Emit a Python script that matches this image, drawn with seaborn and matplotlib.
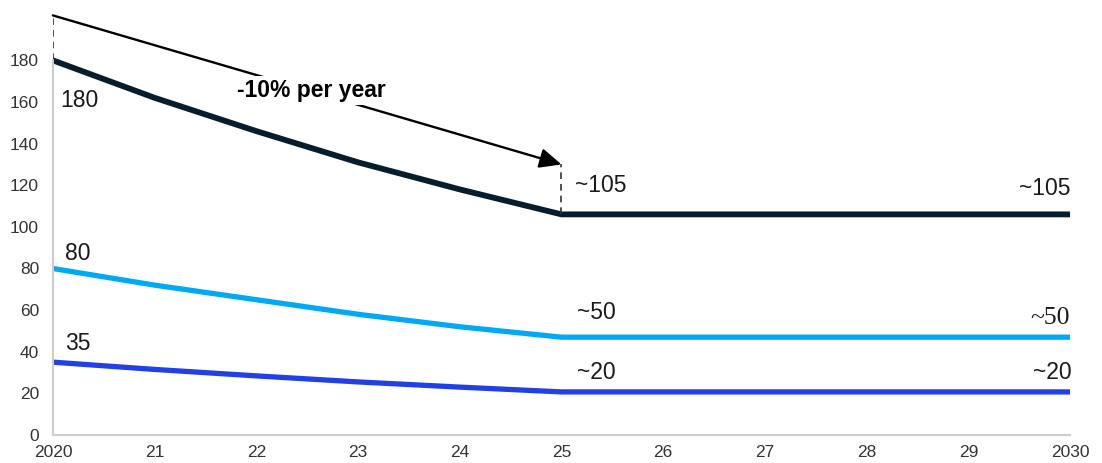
import matplotlib
matplotlib.use("Agg")
import matplotlib.pyplot as plt
import seaborn as sns
import pandas as pd

# Series values by year
years = [2020, 2021, 2022, 2023, 2024, 2025, 2026, 2027, 2028, 2029, 2030]
top_series = [180, 162, 146, 131, 118, 106, 106, 106, 106, 106, 106]
mid_series = [80, 72, 65, 58, 52, 47, 47, 47, 47, 47, 47]
low_series = [35, 31.5, 28.4, 25.5, 23, 20.7, 20.7, 20.7, 20.7, 20.7, 20.7]

tick_years = [2020, 2021, 2022, 2023, 2024, 2025, 2026, 2027, 2028, 2029, 2030]
tick_labels = ["2020", "21", "22", "23", "24", "25", "26", "27", "28", "29", "2030"]
y_ticks = [0, 20, 40, 60, 80, 100, 120, 140, 160, 180]

start_labels = ["180", "80", "35"]
plateau_labels = ["~105", "~50", "~20"]

arrow_start = 201.6
arrow_end = 130
arrow_text = "-10% per year"

colors = {"top": "#071d2d", "mid": "#00a9f4", "low": "#2140e6"}
widths = {"top": 4.2, "mid": 3.8, "low": 3.8}

df = pd.DataFrame({
    "year": years * 3,
    "value": top_series + mid_series + low_series,
    "series": ["top"] * len(years) + ["mid"] * len(years) + ["low"] * len(years),
})

sns.set_theme(style="white")
plt.rcParams["font.family"] = ["Liberation Sans", "DejaVu Sans"]

fig = plt.figure(figsize=(11.02, 4.63), dpi=100)
ax = fig.add_axes([0.048, 0.0605, 0.923, 0.9395])

for name in ["top", "mid", "low"]:
    sns.lineplot(data=df[df["series"] == name], x="year", y="value",
                 color=colors[name], linewidth=widths[name], legend=False,
                 ax=ax, solid_capstyle="round")

ax.set_xlim(2020, 2030)
ax.set_ylim(0, 209)
ax.set_xticks(tick_years)
ax.set_xticklabels(tick_labels)
ax.set_yticks(y_ticks)
ax.set_xlabel("")
ax.set_ylabel("")
ax.tick_params(axis="both", length=0, labelsize=12.5, colors="#333333")
ax.tick_params(axis="x", pad=7)
ax.tick_params(axis="y", pad=10)

for side in ["top", "right"]:
    ax.spines[side].set_visible(False)
for side in ["left", "bottom"]:
    ax.spines[side].set_color("#cccccc")
    ax.spines[side].set_linewidth(1.5)
ax.spines["left"].set_bounds(0, 180)
ax.spines["bottom"].set_bounds(2020, 2030)

# Dashed guides at the start and end of the decline
ax.plot([2020, 2020], [top_series[0], arrow_start], ls=(0, (4, 3)), color="#333333", lw=1.2)
ax.plot([2025, 2025], [top_series[5], arrow_end], ls=(0, (4, 3)), color="#333333", lw=1.2)

ax.annotate("", xy=(2025, arrow_end), xytext=(2020, arrow_start),
            arrowprops=dict(arrowstyle="-|>,head_length=1.1,head_width=0.5",
                            color="black", lw=1.7, shrinkA=0, shrinkB=0))
ax.text(2022.54, 165.5, arrow_text, ha="center", va="center", fontsize=16.5,
        fontweight="bold", color="black",
        bbox=dict(boxstyle="square,pad=0.15", fc="white", ec="none"))

lab_kw = dict(fontsize=16.5, color="#1a1a1a")
ax.text(2020.07, 160.5, start_labels[0], ha="left", va="center", **lab_kw)
ax.text(2020.12, 87, start_labels[1], ha="left", va="center", **lab_kw)
ax.text(2020.12, 43.8, start_labels[2], ha="left", va="center", **lab_kw)

ax.text(2025.13, 119.8, plateau_labels[0], ha="left", va="center", **lab_kw)
ax.text(2025.15, 58.7, plateau_labels[1], ha="left", va="center", **lab_kw)
ax.text(2025.15, 29.8, plateau_labels[2], ha="left", va="center", **lab_kw)

ax.text(2030.0, 118.5, plateau_labels[0], ha="right", va="center", **lab_kw)
ax.text(2030.0, 56, plateau_labels[1], ha="right", va="center", fontsize=18.5,
        color="#1a1a1a", family=["Liberation Serif", "DejaVu Serif"])
ax.text(2030.02, 30, plateau_labels[2], ha="right", va="center", **lab_kw)

fig.savefig("out.png", dpi=100)
